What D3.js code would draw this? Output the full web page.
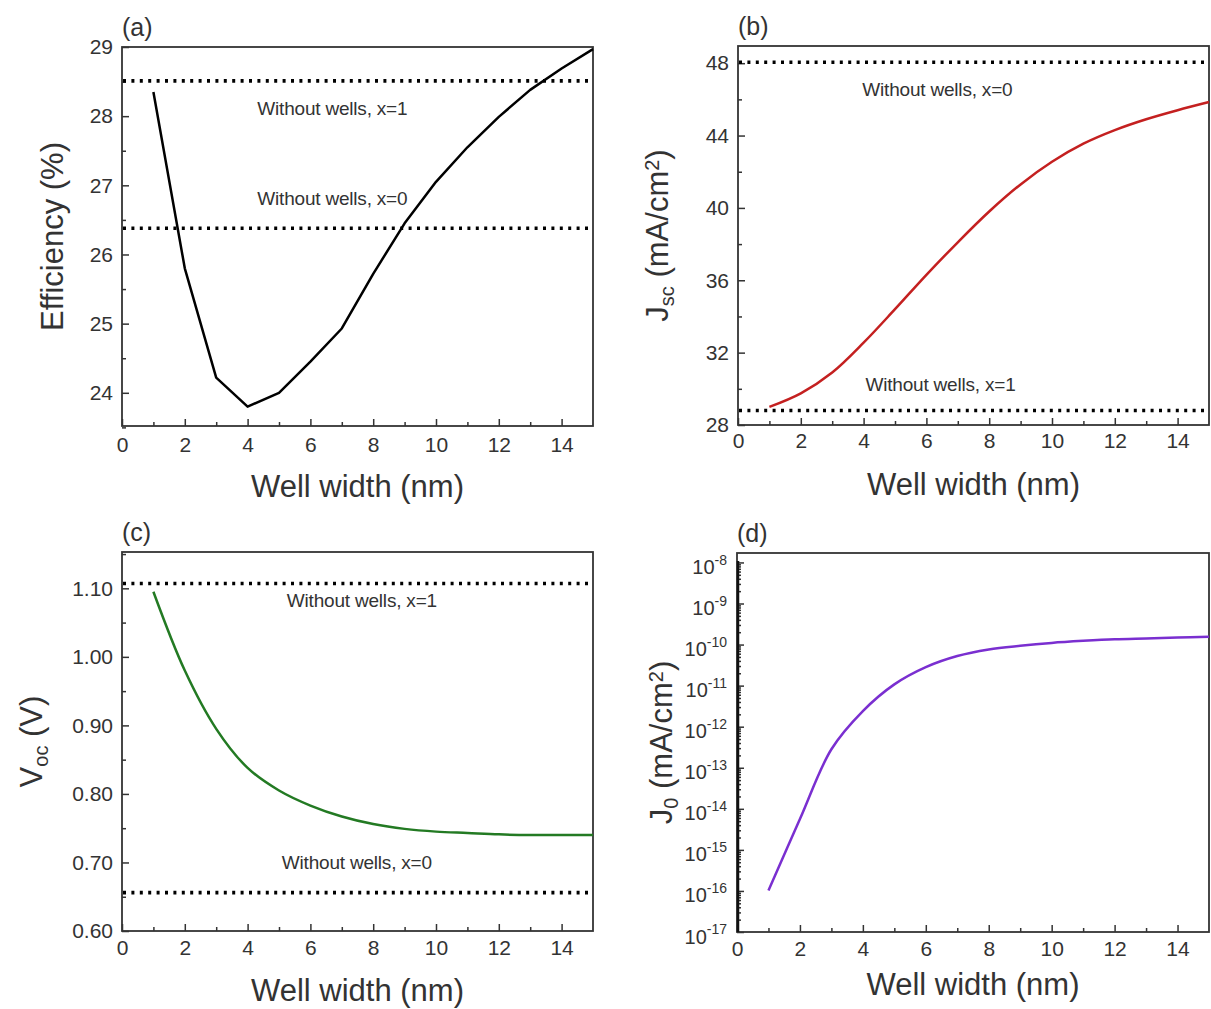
<!DOCTYPE html>
<html><head><meta charset="utf-8">
<script src="https://cdn.jsdelivr.net/npm/d3@7"></script>
<style>
body{margin:0;background:#fff;}
text{font-family:Arial,"Liberation Sans",sans-serif;fill:#333;}
</style></head>
<body><svg id="c" width="1211" height="1009"></svg>
<script>
// ---- data ----
const wellWidth = [1,2,3,4,5,6,7,8,9,10,11,12,13,14,15];
const efficiency = [28.35,25.8,24.22,23.8,24.0,24.45,24.93,25.72,26.45,27.05,27.55,27.99,28.38,28.69,28.97];
const jsc = [29.0,29.75,30.9,32.55,34.4,36.3,38.1,39.8,41.3,42.55,43.55,44.3,44.9,45.4,45.85];
const voc = [1.095,0.98,0.895,0.838,0.805,0.783,0.767,0.756,0.749,0.745,0.743,0.741,0.740,0.740,0.740];
const j0Exp = [-15.99,-14.25,-12.55,-11.62,-10.97,-10.55,-10.28,-10.12,-10.03,-9.96,-9.91,-9.87,-9.85,-9.83,-9.81];
const refEff = {x0: 26.38, x1: 28.51};
const refJsc = {x0: 48.05, x1: 28.8};
const refVoc = {x0: 0.656, x1: 1.107};
const xTicks = [0,2,4,6,8,10,12,14];
const effTicks = [24,25,26,27,28,29];
const jscTicks = [28,32,36,40,44,48];
const vocTicks = [0.60,0.70,0.80,0.90,1.00,1.10];
const j0TickExps = [-17,-16,-15,-14,-13,-12,-11,-10,-9,-8];
const annotText0 = "Without wells, x=0";
const annotText1 = "Without wells, x=1";

const svg = d3.select("#c");
const FONT_TICK = 21, FONT_TITLE = 31;

function panel(o){
  const g = svg.append("g");
  const x = d3.scaleLinear().domain([0,15]).range([o.l,o.r]);
  const y = o.log ? d3.scaleLog().domain(o.yDomain).range([o.b,o.t])
                  : d3.scaleLinear().domain(o.yDomain).range([o.b,o.t]);
  const styleTicks = s=>{s.select(".domain").remove(); s.selectAll("line").attr("stroke","#333").attr("stroke-width",1.5);
      s.selectAll("text").style("font-size",FONT_TICK+"px").attr("fill","#333").attr("font-family","Arial, Liberation Sans, sans-serif");};
  g.append("g").attr("transform",`translate(0,${o.b})`)
    .call(d3.axisBottom(x).tickValues(d3.range(1,15,2)).tickSize(-4).tickFormat("")).call(styleTicks);
  g.append("g").attr("transform",`translate(0,${o.b})`)
    .call(d3.axisBottom(x).tickValues(xTicks).tickSize(-7).tickPadding(o.xPad).tickFormat(d3.format("d"))).call(styleTicks);
  g.append("g").attr("transform",`translate(${o.l},0)`)
    .call(d3.axisLeft(y).tickValues(o.yMinor).tickSize(-4).tickFormat("")).call(styleTicks);
  const ya = g.append("g").attr("transform",`translate(${o.l},0)`)
    .call(d3.axisLeft(y).tickValues(o.yTicks).tickSize(-7).tickPadding(o.log?10:9).tickFormat(o.yFmt || "")).call(styleTicks);
  if(o.log){
    ya.selectAll(".tick text").each(function(d){
      const t = d3.select(this).text("").attr("dy","0.55em").style("font-size","20px");
      t.append("tspan").text("10");
      t.append("tspan").attr("dy","-0.65em").style("font-size","14px").text(Math.round(Math.log10(d)));
    });
  }
  g.append("rect").attr("x",o.l).attr("y",o.t).attr("width",o.r-o.l).attr("height",o.b-o.t)
    .attr("fill","none").attr("stroke","#333").attr("stroke-width",1.8);
  if(o.log){
    g.append("line").attr("x1",o.l+1).attr("x2",o.l+1).attr("y1",o.t+8).attr("y2",o.b)
      .attr("stroke","#111").attr("stroke-width",2.5);
  }
  (o.refs||[]).forEach(r=>{
    g.append("line").attr("x1",o.l+1).attr("x2",o.r-4).attr("y1",y(r)).attr("y2",y(r))
      .attr("stroke","#000").attr("stroke-width",3.6).attr("stroke-dasharray","3,5.4");
  });
  (o.annots||[]).forEach(a=>{
    g.append("text").attr("x",x(a.x)).attr("y",y(a.y)).attr("text-anchor","middle")
      .style("font-size","19px").style("letter-spacing","-0.2px").attr("fill","#333").text(a.text);
  });
  const line = d3.line().x((d,i)=>x(wellWidth[i])).y(d=>y(d)).curve(o.curve);
  g.append("path").datum(o.values).attr("d",line).attr("fill","none")
    .attr("stroke",o.color).attr("stroke-width",2.5).attr("stroke-linejoin","round");
  g.append("text").attr("x",o.l).attr("y",o.t-11).style("font-size","25px").attr("fill","#222").text(o.tag);
  g.append("text").attr("x",(o.l+o.r)/2).attr("y",o.xTitleY).attr("text-anchor","middle")
    .style("font-size",FONT_TITLE+"px").attr("fill","#333").text("Well width (nm)");
  const yt = g.append("text").attr("transform",`translate(${o.yTitleX},${(o.t+o.b)/2}) rotate(-90)`)
    .attr("text-anchor","middle").style("font-size",FONT_TITLE+"px").attr("fill","#333");
  o.yTitle.forEach(p=>{
    const ts = yt.append("tspan").text(p.t);
    if(p.sub){ ts.attr("baseline-shift","-30%").style("font-size","20px"); }
    if(p.sup){ ts.attr("baseline-shift","45%").style("font-size","20px"); }
  });
  return {x,y};
}

const cr = d3.curveCatmullRom.alpha(0.5);

panel({l:122,r:593,t:47,b:426,xPad:11,yDomain:[23.52,29],yTicks:effTicks,yMinor:[23.5,24.5,25.5,26.5,27.5,28.5],
  yFmt:d3.format("d"),values:efficiency,color:"#000",curve:d3.curveLinear,tag:"(a)",
  refs:[refEff.x0,refEff.x1],annots:[{x:6.7,y:28.02,text:annotText1},{x:6.7,y:26.71,text:annotText0}],
  xTitleY:497,yTitleX:63,yTitle:[{t:"Efficiency (%)"}]});

panel({l:738,r:1209,t:46,b:425,xPad:8,yDomain:[28,48.95],yTicks:jscTicks,yMinor:[30,34,38,42,46],
  yFmt:d3.format("d"),values:jsc,color:"#c42020",curve:cr,tag:"(b)",
  refs:[refJsc.x0,refJsc.x1],annots:[{x:6.35,y:46.19,text:annotText0},{x:6.45,y:29.88,text:annotText1}],
  xTitleY:495,yTitleX:668,yTitle:[{t:"J"},{t:"sc",sub:true},{t:" (mA/cm"},{t:"2",sup:true},{t:")"}]});

panel({l:122,r:593,t:552,b:931,xPad:9,yDomain:[0.6,1.153],yTicks:vocTicks,yMinor:[0.65,0.75,0.85,0.95,1.05,1.15],
  yFmt:d3.format(".2f"),values:voc,color:"#237a23",curve:cr,tag:"(c)",
  refs:[refVoc.x0,refVoc.x1],annots:[{x:7.64,y:1.073,text:annotText1},{x:7.48,y:0.69,text:annotText0}],
  xTitleY:1001,yTitleX:42,yTitle:[{t:"V"},{t:"oc",sub:true},{t:" (V)"}]});

const minorLog = [];
j0TickExps.slice(0,-1).forEach(e=>{ for(let k=2;k<10;k++) minorLog.push(k*Math.pow(10,e)); });
panel({l:737,r:1209,t:553,b:932,xPad:9,log:true,yDomain:[1e-17,Math.pow(10,-7.77)],
  yTicks:j0TickExps.map(e=>Math.pow(10,e)),yMinor:minorLog,
  values:j0Exp.map(e=>Math.pow(10,e)),color:"#7a2fd0",curve:cr,tag:"(d)",
  refs:[],annots:[],xTitleY:995,yTitleX:672,
  yTitle:[{t:"J"},{t:"0",sub:true},{t:" (mA/cm"},{t:"2",sup:true},{t:")"}]});
</script></body></html>
